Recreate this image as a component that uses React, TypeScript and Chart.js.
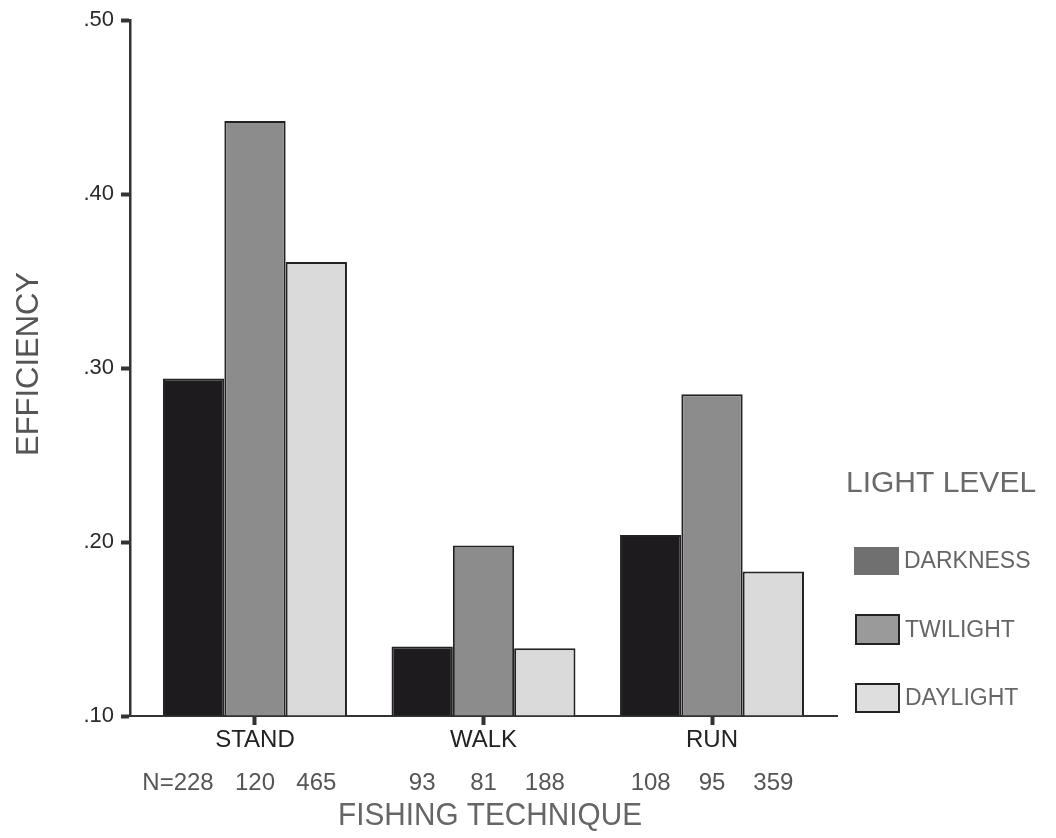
import React, { useEffect, useRef } from 'react';
import { Chart, registerables } from 'chart.js';

Chart.register(...registerables);

const categories = ['STAND', 'WALK', 'RUN'];
const seriesLabels = ['DARKNESS', 'TWILIGHT', 'DAYLIGHT'];
const darkness = [0.294, 0.14, 0.204];
const twilight = [0.442, 0.198, 0.285];
const daylight = [0.361, 0.139, 0.183];
const nDarkness = [228, 93, 108];
const nTwilight = [120, 81, 95];
const nDaylight = [465, 188, 359];
const yTickValues = [0.1, 0.2, 0.3, 0.4, 0.5];

const FONT = '"Liberation Sans", Arial, sans-serif';
const barFills = ['#1d1b1d', '#8c8c8c', '#dadada'];
const swatchFills = ['#707070', '#9a9a9a', '#dedede'];
const swatchBorders = [null, '#222222', '#222222'];
const swatchBoxes = [
  [854, 547, 45, 28],
  [855, 614, 45, 31],
  [855, 683, 45, 30],
];

const overlay = {
  id: 'overlay',
  afterDraw(chart: any) {
    const ctx = chart.ctx as CanvasRenderingContext2D;
    ctx.save();
    // N labels
    const nSets = [nDarkness, nTwilight, nDaylight];
    ctx.font = `24px ${FONT}`;
    ctx.fillStyle = '#555555';
    ctx.textBaseline = 'middle';
    nSets.forEach((arr, di) => {
      const meta = chart.getDatasetMeta(di);
      arr.forEach((n, ci) => {
        const x = meta.data[ci].x;
        const s = String(n);
        ctx.textAlign = 'center';
        ctx.fillText(s, x, 783);
        if (di === 0 && ci === 0) {
          ctx.textAlign = 'right';
          ctx.fillText('N=', x - ctx.measureText(s).width / 2, 783);
        }
      });
    });
    // axis titles
    ctx.fillStyle = '#666666';
    ctx.font = `31px ${FONT}`;
    ctx.textAlign = 'center';
    ctx.fillText('FISHING TECHNIQUE', 490, 816, 304);
    ctx.save();
    ctx.translate(29, 364);
    ctx.rotate(-Math.PI / 2);
    ctx.fillStyle = '#555555';
    ctx.fillText('EFFICIENCY', 0, 0, 184);
    ctx.restore();
    // legend
    ctx.fillStyle = '#6a6a6a';
    ctx.font = `30px ${FONT}`;
    ctx.textAlign = 'left';
    ctx.fillText('LIGHT LEVEL', 846, 484, 200);
    ctx.font = `23px ${FONT}`;
    seriesLabels.forEach((lab, i) => {
      const [x, y, w, h] = swatchBoxes[i];
      ctx.fillStyle = swatchFills[i];
      ctx.fillRect(x, y, w, h);
      const b = swatchBorders[i];
      if (b) {
        ctx.strokeStyle = b;
        ctx.lineWidth = 2;
        ctx.strokeRect(x + 1, y + 1, w - 2, h - 2);
      }
      ctx.fillStyle = '#666666';
      ctx.textAlign = 'left';
      ctx.fillText(lab, x + w + 5, y + h / 2 + 1, 132);
    });
    ctx.restore();
  },
};

export default function App() {
  const ref = useRef<HTMLCanvasElement | null>(null);
  useEffect(() => {
    if (!ref.current) return;
    const series = [darkness, twilight, daylight];
    const chart = new Chart(ref.current, {
      type: 'bar',
      data: {
        datasets: series.map((vals, i) => ({
          label: seriesLabels[i],
          data: vals.map((v, ci) => ({ x: ci, y: v })),
          backgroundColor: barFills[i],
          borderColor: '#222222',
          borderWidth: 2,
          borderSkipped: 'start',
          base: 0.1,
          categoryPercentage: 0.805,
          barPercentage: 1.0,
        })),
      },
      options: {
        animation: false,
        responsive: false,
        maintainAspectRatio: false,
        layout: { padding: { left: 0, right: 219, top: 18, bottom: 0 } },
        plugins: {
          legend: { display: false },
          tooltip: { enabled: false },
        },
        scales: {
          x: {
            type: 'linear',
            min: -0.547,
            max: 2.547,
            offset: false,
            afterFit: (s: any) => {
              s.height = 122;
            },
            afterBuildTicks: (s: any) => {
              s.ticks = categories.map((_, i) => ({ value: i }));
            },
            ticks: {
              callback: (v: any) => categories[Math.round(Number(v))] ?? '',
              font: { family: FONT, size: 24 },
              color: '#222222',
              padding: 1,
              autoSkip: false,
              maxRotation: 0,
            },
            grid: {
              offset: false,
              drawOnChartArea: false,
              drawTicks: true,
              tickLength: 9,
              tickWidth: 4,
              tickColor: '#333333',
            },
            border: { display: true, color: '#333333', width: 2 },
          },
          y: {
            type: 'linear',
            min: 0.1,
            max: 0.5,
            afterFit: (s: any) => {
              s.width = 130;
            },
            afterBuildTicks: (s: any) => {
              s.ticks = yTickValues.map((v) => ({ value: v }));
            },
            ticks: {
              callback: (v: any) => Number(v).toFixed(2).replace(/^0/, ''),
              font: { family: FONT, size: 22 },
              color: '#2a2a2a',
              padding: 7,
            },
            grid: {
              offset: false,
              drawOnChartArea: false,
              drawTicks: true,
              tickLength: 9,
              tickWidth: 4,
              tickColor: '#333333',
            },
            border: { display: true, color: '#333333', width: 2.5 },
          },
        },
      },
      plugins: [overlay],
    });
    return () => chart.destroy();
  }, []);
  return (
    <div style={{ position: 'fixed', left: 0, top: 0, width: 1056, height: 838, background: '#ffffff' }}>
      <canvas ref={ref} width={1056} height={838} style={{ width: 1056, height: 838, display: 'block' }} />
    </div>
  );
}
